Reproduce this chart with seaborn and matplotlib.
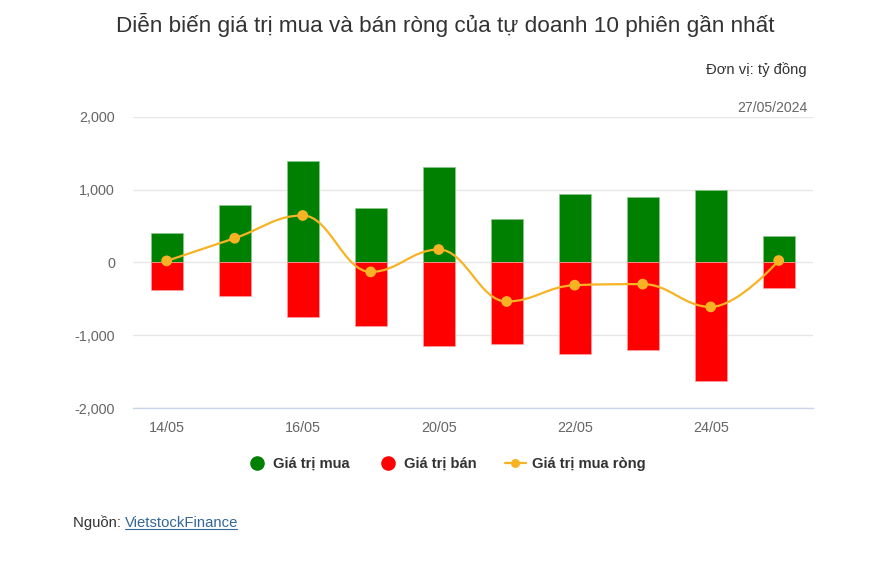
import numpy as np
import pandas as pd
import matplotlib
matplotlib.use("Agg")
import matplotlib.pyplot as plt
from matplotlib.path import Path
from matplotlib.patches import PathPatch
from matplotlib.lines import Line2D
from matplotlib.ticker import FuncFormatter, FixedLocator
import seaborn as sns

# ---- data ----
dates = ["14/05", "15/05", "16/05", "17/05", "20/05", "21/05", "22/05", "23/05", "24/05", "27/05"]
buy_values = [402, 786, 1399, 745, 1311, 594, 933, 900, 1001, 370]
sell_values = [-384, -453, -746, -870, -1144, -1121, -1258, -1207, -1619, -348]
net_values = [22, 333, 645, -129, 178, -535, -311, -297, -609, 27]
shown_ticks = ["14/05", "16/05", "20/05", "22/05", "24/05"]
y_ticks = [-2000, -1000, 0, 1000, 2000]

GREEN = "#008000"
RED = "#ff0000"
ORANGE = "#f7b323"
TXT = "#333333"
GRAY = "#666666"

sns.set_theme(style="white")
plt.rcParams["font.family"] = ["Liberation Sans", "DejaVu Sans"]

fig = plt.figure(figsize=(8.81, 5.61), dpi=100)
ax = fig.add_axes([0.1506, 0.2722, 0.7719, 0.5198])

df = pd.DataFrame({"date": dates, "buy": buy_values, "sell": sell_values, "net": net_values})

sns.barplot(data=df, x="date", y="buy", color=GREEN, saturation=1, width=0.475,
            edgecolor="#8cc68c", linewidth=0.5, ax=ax, zorder=2)
sns.barplot(data=df, x="date", y="sell", color=RED, saturation=1, width=0.475,
            edgecolor="#ffa0a0", linewidth=0.5, ax=ax, zorder=2)


def highcharts_spline(xs, ys, smoothing=1.5):
    denom = smoothing + 1
    n = len(xs)
    verts = [(xs[0], ys[0])]
    codes = [Path.MOVETO]
    lefts, rights = [], []
    for i in range(n):
        px, py = xs[i], ys[i]
        if 0 < i < n - 1:
            lx, ly = xs[i - 1], ys[i - 1]
            nx, ny = xs[i + 1], ys[i + 1]
            lcx = (smoothing * px + lx) / denom
            lcy = (smoothing * py + ly) / denom
            rcx = (smoothing * px + nx) / denom
            rcy = (smoothing * py + ny) / denom
            if rcx != lcx:
                corr = (rcy - lcy) * (rcx - px) / (rcx - lcx) + py - rcy
                lcy += corr
                rcy += corr
                if lcy > ly and lcy > py:
                    lcy = max(ly, py); rcy = 2 * py - lcy
                elif lcy < ly and lcy < py:
                    lcy = min(ly, py); rcy = 2 * py - lcy
                if rcy > ny and rcy > py:
                    rcy = max(ny, py); lcy = 2 * py - rcy
                elif rcy < ny and rcy < py:
                    rcy = min(ny, py); lcy = 2 * py - rcy
            lefts.append((lcx, lcy)); rights.append((rcx, rcy))
        else:
            lefts.append((px, py)); rights.append((px, py))
    for i in range(1, n):
        verts += [rights[i - 1], lefts[i], (xs[i], ys[i])]
        codes += [Path.CURVE4] * 3
    return Path(verts, codes)


xpos = np.arange(len(dates), dtype=float)
path = highcharts_spline(list(xpos), list(map(float, net_values)))
ax.add_patch(PathPatch(path, facecolor="none", edgecolor=ORANGE, lw=1.6, zorder=3))
sns.scatterplot(x=xpos, y=net_values, color=ORANGE, s=60, edgecolor="none", ax=ax, zorder=4)

ax.set_xlim(-0.5, 9.5)
ax.set_ylim(-2000, 2000)
ax.yaxis.set_major_locator(FixedLocator(y_ticks))
ax.yaxis.set_major_formatter(FuncFormatter(lambda v, p: f"{int(v):,}"))
ax.set_xticks(range(len(dates)))
ax.set_xticklabels([d if d in shown_ticks else "" for d in dates])
ax.set_xlabel("")
ax.set_ylabel("")
ax.grid(axis="y", color="#e6e6e6", lw=1, zorder=0)
ax.grid(axis="x", visible=False)
for s in ["top", "right", "left"]:
    ax.spines[s].set_visible(False)
ax.spines["bottom"].set_color("#ccd6eb")
ax.spines["bottom"].set_linewidth(1)
ax.spines["bottom"].set_zorder(1)
ax.tick_params(axis="y", length=0, pad=12.8, labelsize=10.4, labelcolor=GRAY)
ax.tick_params(axis="x", length=0, pad=9.5, labelsize=10.4, labelcolor=GRAY)
ax.set_axisbelow(True)

fig.text(445 / 881, 1 - 25 / 561, "Diễn biến giá trị mua và bán ròng của tự doanh 10 phiên gần nhất",
         ha="center", va="center", fontsize=16.2, color=TXT)
fig.text(807 / 881, 1 - 70 / 561, "Đơn vị: tỷ đồng", ha="right", va="center", fontsize=10.7, color=TXT)
fig.text(807 / 881, 1 - 108 / 561, "27/05/2024", ha="right", va="center", fontsize=10.1, color=GRAY)

handles = [
    Line2D([], [], marker="o", color="none", markerfacecolor=GREEN, markeredgecolor="none", markersize=10.5),
    Line2D([], [], marker="o", color="none", markerfacecolor=RED, markeredgecolor="none", markersize=10.5),
    Line2D([], [], marker="o", color=ORANGE, lw=1.6, markerfacecolor=ORANGE, markeredgecolor="none", markersize=6.5),
]
leg = fig.legend(handles, ["Giá trị mua", "Giá trị bán", "Giá trị mua ròng"], loc="center",
                 bbox_to_anchor=(446 / 881, 1 - 464 / 561), ncol=3, frameon=False,
                 prop={"weight": "bold", "size": 10.6}, handlelength=1.4, handletextpad=0.4,
                 columnspacing=1.9)
for t in leg.get_texts():
    t.set_color(TXT)

t1 = fig.text(73 / 881, 1 - 523 / 561, "Nguồn: ", ha="left", va="center", fontsize=10.7, color=TXT)
fig.canvas.draw()
bb = t1.get_window_extent()
t2 = fig.text(bb.x1 / 881, 1 - 523 / 561, "VietstockFinance", ha="left", va="center",
              fontsize=10.7, color="#336699")
fig.canvas.draw()
bb2 = t2.get_window_extent()
fig.add_artist(Line2D([bb2.x0 / 881, (bb2.x1 - 2) / 881], [(bb2.y0 + 1) / 561] * 2, color="#336699", lw=0.8))

fig.savefig("out.png", dpi=100, facecolor="white")
